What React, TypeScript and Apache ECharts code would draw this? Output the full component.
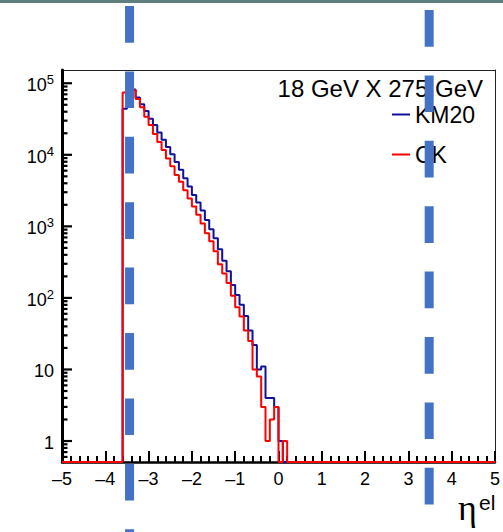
import React, { useEffect, useRef } from 'react';
import * as echarts from 'echarts';

// ---- data ----
const BIN_START = -3.6; // lower edge of the first filled bin
const BIN_WIDTH = 0.1;
// counts per bin, bins from -3.6 up to 0.3
const KM20 = [44000, 70000, 82000, 63000, 51000, 41000, 32000, 26000, 20500, 16200, 12900, 10200, 7900, 6200, 4700, 3600, 2750, 2150, 1660, 1230, 910, 680, 480, 330, 235, 152, 110, 80, 56, 35, 22, 10, 11, 4, 4, 3, 1, 0, 0];
const CK = [74000, 77000, 80000, 60000, 46000, 34000, 26000, 19500, 15100, 11700, 8900, 6900, 5200, 4200, 3200, 2450, 1900, 1450, 1100, 800, 620, 450, 295, 220, 162, 107, 74, 55, 35, 25, 10, 8, 3, 1, 2, 3, 0, 1, 0];
const SERIES_NAMES = ['KM20', 'CK'];
const X_MIN = -5;
const X_MAX = 5;
const Y_DECADES = [0, 1, 2, 3, 4, 5]; // log10 of 1 .. 1e5
const Y_MINOR_FACTORS = [2, 3, 4, 5, 6, 7, 8, 9];
const Y_MIN_LOG = -0.293;
const Y_MAX_LOG = 5.185;
const ETA_CUTS = [-3.44, 3.48];
const TITLE = '18 GeV X 275 GeV';

const FONT = "'Liberation Sans', Arial, Helvetica, sans-serif";
const W = 503;
const H = 532;
const GRID = { left: 62, right: 8, top: 70, bottom: 70 };

function histPoints(counts: number[]) {
  const floor = Y_MIN_LOG;
  const pts: number[][] = [[X_MIN, floor]];
  counts.forEach((c, i) => {
    const edge = +(BIN_START + i * BIN_WIDTH).toFixed(2);
    pts.push([edge, c > 0 ? Math.log10(c) : floor]);
  });
  pts.push([X_MAX, floor]);
  return pts;
}

function logTicks(factors: number[]) {
  const out: number[] = [];
  for (let n = -1; n <= 5; n++) {
    for (const k of factors) {
      const v = n + Math.log10(k);
      if (v > Y_MIN_LOG && v < Y_MAX_LOG) out.push(v);
    }
  }
  return out;
}

export default function App() {
  const ref = useRef<HTMLDivElement>(null);
  useEffect(() => {
    if (!ref.current) return;
    const chart = echarts.init(ref.current, null, { renderer: 'svg' });
    const option: any = {
      animation: false,
      backgroundColor: '#ffffff',
      grid: { ...GRID, show: false },
      legend: {
        data: SERIES_NAMES,
        orient: 'vertical',
        left: 392,
        top: 103,
        padding: 0,
        itemWidth: 18,
        itemHeight: 2,
        itemGap: 17,
        icon: 'rect',
        selectedMode: false,
        textStyle: { fontSize: 23, color: '#000', fontFamily: FONT },
      },
      xAxis: [
        {
          type: 'value',
          min: X_MIN,
          max: X_MAX,
          interval: 1,
          position: 'bottom',
          axisLine: { show: true, onZero: false, lineStyle: { color: '#000', width: 2.5 } },
          axisTick: { show: true, inside: true, length: 11, lineStyle: { color: '#000', width: 2 } },
          minorTick: { show: true, splitNumber: 5, length: 6, lineStyle: { color: '#000', width: 2 } },
          axisLabel: {
            fontSize: 18,
            color: '#000',
            fontFamily: FONT,
            margin: 8,
            formatter: (v: number) => (v < 0 ? '\u2013' + Math.abs(v) : String(v)),
          },
          splitLine: { show: false },
          minorSplitLine: { show: false },
          z: 6,
        },
        {
          // top frame line
          type: 'value',
          min: X_MIN,
          max: X_MAX,
          position: 'top',
          axisLine: { show: true, onZero: false, lineStyle: { color: '#222', width: 1 } },
          axisTick: { show: false },
          axisLabel: { show: false },
          splitLine: { show: false },
        },
      ],
      yAxis: [
        {
          type: 'value',
          min: Y_MIN_LOG,
          max: Y_MAX_LOG,
          position: 'left',
          axisLine: { show: true, onZero: false, lineStyle: { color: '#000', width: 3 } },
          axisTick: { show: false },
          axisLabel: {
            show: true,
            customValues: Y_DECADES,
            fontSize: 18,
            color: '#000',
            fontFamily: FONT,
            margin: 8,
            lineHeight: 24,
            padding: [4, 0, 0, 0],
            formatter: (v: number) => {
              const n = Math.round(v);
              if (n === 0) return '1';
              if (n === 1) return '10';
              return '10{s|' + n + '}';
            },
            rich: {
              s: { fontSize: 13, lineHeight: 13, verticalAlign: 'top', color: '#000', fontFamily: FONT },
            },
          },
          splitLine: { show: false },
          z: 6,
        },
        {
          // right frame line
          type: 'value',
          min: Y_MIN_LOG,
          max: Y_MAX_LOG,
          position: 'right',
          axisLine: { show: true, onZero: false, lineStyle: { color: '#222', width: 1 } },
          axisTick: { show: false },
          axisLabel: { show: false },
          splitLine: { show: false },
        },
      ],
      series: [
        {
          // y-axis tick marks: decades (long) and 2..9 factors (short), placed through the axis scale
          type: 'custom',
          silent: true,
          clip: false,
          data: [
            ...logTicks([1]).map((v) => [X_MIN, v, 10]),
            ...logTicks(Y_MINOR_FACTORS).map((v) => [X_MIN, v, 5.5]),
          ],
          renderItem: (_params: any, api: any) => {
            const p = api.coord([api.value(0), api.value(1)]);
            const len = api.value(2);
            return {
              type: 'line',
              shape: { x1: p[0], y1: p[1], x2: p[0] + len, y2: p[1] },
              style: { stroke: '#000', lineWidth: 2.2 },
            };
          },
          z: 9,
        },
        {
          name: SERIES_NAMES[0],
          type: 'line',
          step: 'end',
          data: histPoints(KM20),
          showSymbol: false,
          clip: false,
          color: '#10109a',
          lineStyle: { color: '#10109a', width: 2 },
          z: 7,
        },
        {
          name: SERIES_NAMES[1],
          type: 'line',
          step: 'end',
          data: histPoints(CK),
          showSymbol: false,
          clip: false,
          color: '#ff0000',
          lineStyle: { color: '#ff0000', width: 2 },
          z: 8,
        },
      ],
    };
    chart.setOption(option);

    const cutX = ETA_CUTS.map((e) => chart.convertToPixel({ xAxisIndex: 0 }, e) as number);
    const dashStarts = [6, 10];
    chart.setOption({
      graphic: [
        { type: 'rect', shape: { x: 0, y: 0, width: W, height: 3 }, style: { fill: '#5f7f7f' }, z: 50 },
        {
          type: 'text',
          x: 483,
          y: 88,
          style: { text: TITLE, align: 'right', verticalAlign: 'middle', fontSize: 24, fontFamily: FONT, fill: '#000' },
          z: 20,
        },
        {
          type: 'text',
          x: 458,
          y: 508,
          style: { text: '\u03b7', align: 'left', verticalAlign: 'middle', fontSize: 36, fontFamily: "'Liberation Serif', 'DejaVu Serif', serif", fill: '#000' },
          z: 20,
        },
        {
          type: 'text',
          x: 479,
          y: 502,
          style: { text: 'el', align: 'left', verticalAlign: 'middle', fontSize: 21, fontFamily: FONT, fill: '#000' },
          z: 20,
        },
        ...cutX.map((x, i) => ({
          type: 'line',
          shape: { x1: x, y1: dashStarts[i], x2: x, y2: H },
          style: { stroke: '#4472c4', lineWidth: 9, lineDash: [36.7, 28.7], lineCap: 'butt' },
          z: 100,
        })),
      ],
    });
    return () => chart.dispose();
  }, []);
  return (
    <div
      ref={ref}
      style={{ position: 'fixed', left: 0, top: 0, width: W, height: H, background: '#fff' }}
    />
  );
}
